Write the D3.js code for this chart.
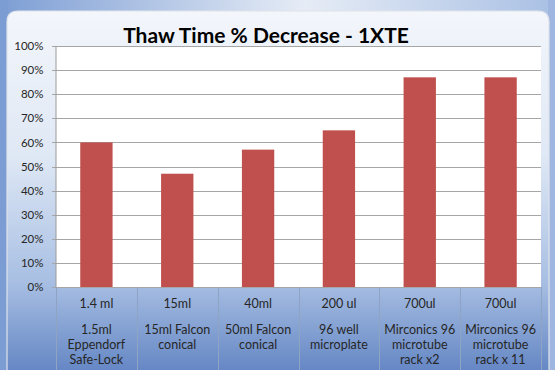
<!DOCTYPE html>
<html>
<head>
<meta charset="utf-8">
<script src="https://cdn.jsdelivr.net/npm/d3@7/dist/d3.min.js"></script>
<style>
  html, body { margin: 0; padding: 0; background: #fff; }
  svg { display: block; }
</style>
</head>
<body>
<svg id="chart" width="555" height="370"></svg>
<script>
// Chart data
const sizes = ["1.4 ml", "15ml", "40ml", "200 ul", "700ul", "700ul"];
const vessels = [
  ["1.5ml", "Eppendorf", "Safe-Lock"],
  ["15ml Falcon", "conical"],
  ["50ml Falcon", "conical"],
  ["96 well", "microplate"],
  ["Mirconics 96", "microtube", "rack x2"],
  ["Mirconics 96", "microtube", "rack x 11"]
];
const decrease = [0.60, 0.47, 0.57, 0.65, 0.87, 0.87];
const yTicks = [0, 0.1, 0.2, 0.3, 0.4, 0.5, 0.6, 0.7, 0.8, 0.9, 1.0];
const title = "Thaw Time % Decrease - 1XTE";

const W = 555, H = 370;
const plot = { left: 56, right: 541, top: 46, bottom: 287 };
const font = "Lato, 'Open Sans', 'DejaVu Sans', sans-serif";

const svg = d3.select("#chart");
const defs = svg.append("defs");

// Backdrop gradients
const outer = defs.append("linearGradient").attr("id", "outer")
  .attr("x1", 0).attr("y1", 0).attr("x2", 1).attr("y2", 0);
outer.append("stop").attr("offset", "0%").attr("stop-color", "#7d9ed4");
outer.append("stop").attr("offset", "55%").attr("stop-color", "#e6ecf6");
outer.append("stop").attr("offset", "100%").attr("stop-color", "#a9c0e4");

const panel = defs.append("linearGradient").attr("id", "panel")
  .attr("x1", 0).attr("y1", 0).attr("x2", 0).attr("y2", 1);
panel.append("stop").attr("offset", "0%").attr("stop-color", "#f3f6fb");
panel.append("stop").attr("offset", "40%").attr("stop-color", "#dfe8f5");
panel.append("stop").attr("offset", "75%").attr("stop-color", "#a8bfe3");
panel.append("stop").attr("offset", "100%").attr("stop-color", "#6486c4");

svg.append("rect").attr("width", W).attr("height", H).attr("fill", "url(#outer)");
svg.append("rect").attr("x", 0).attr("y", 0).attr("width", 8).attr("height", H).attr("fill", "#7c9dd3");
svg.append("rect").attr("x", 548).attr("y", 0).attr("width", 7).attr("height", H).attr("fill", "#9fb7e0");

// Chart panel with rounded top corners
svg.append("path")
  .attr("d", `M7,${H + 2} L7,22 Q7,11 18,11 L538,11 Q549,11 549,22 L549,${H + 2} Z`)
  .attr("fill", "url(#panel)")
  .attr("stroke", "#dfe3ea").attr("stroke-width", 1.2);

// Scales
const x = d3.scaleBand()
  .domain(d3.range(sizes.length))
  .range([plot.left, plot.right])
  .paddingInner(0.6).paddingOuter(0.3);
const y = d3.scaleLinear().domain([0, 1]).range([plot.bottom, plot.top]);

// Plot background
svg.append("rect")
  .attr("x", plot.left).attr("y", plot.top)
  .attr("width", plot.right - plot.left).attr("height", plot.bottom - plot.top)
  .attr("fill", "#ffffff");

// Gridlines
svg.append("g").selectAll("line").data(yTicks).join("line")
  .attr("x1", plot.left - 4).attr("x2", plot.right)
  .attr("y1", d => Math.round(y(d)) + 0.5).attr("y2", d => Math.round(y(d)) + 0.5)
  .attr("stroke", "#a6a6a6").attr("stroke-width", 1);

// Y axis
const yAxis = svg.append("g")
  .attr("transform", `translate(${plot.left - 0.5},0)`)
  .call(d3.axisLeft(y).tickValues(yTicks).tickFormat(d3.format(".0%")).tickSize(0).tickPadding(12));
yAxis.select(".domain").attr("stroke", "#9a9a9a");
yAxis.selectAll("text")
  .attr("font-family", font).attr("font-size", 11.5).attr("fill", "#262626");

// Category table columns
const step = x.step();
const cols = d3.range(sizes.length + 1).map(i => plot.left + i * step);
svg.append("g").selectAll("line").data(cols).join("line")
  .attr("x1", d => Math.round(d) + 0.5).attr("x2", d => Math.round(d) + 0.5)
  .attr("y1", plot.bottom).attr("y2", H)
  .attr("stroke", "#8fa3c3").attr("stroke-width", 1);

// Bars
svg.append("g").selectAll("rect").data(decrease).join("rect")
  .attr("x", (d, i) => x(i)).attr("width", x.bandwidth())
  .attr("y", d => y(d)).attr("height", d => y(0) - y(d))
  .attr("fill", "#c0504d");

// Category labels
const labels = svg.append("g")
  .attr("font-family", font).attr("font-size", 12.5)
  .attr("fill", "#262626").attr("text-anchor", "middle");
labels.selectAll("text.size").data(sizes).join("text")
  .attr("class", "size")
  .attr("x", (d, i) => x(i) + x.bandwidth() / 2).attr("y", 307.5)
  .text(d => d);
vessels.forEach((lines, i) => {
  labels.selectAll(null).data(lines).join("text")
    .attr("x", x(i) + x.bandwidth() / 2)
    .attr("y", (d, j) => 333.5 + j * 15)
    .text(d => d);
});

// Title
svg.append("text")
  .attr("x", 266).attr("y", 43)
  .attr("text-anchor", "middle")
  .attr("font-family", font).attr("font-weight", "bold").attr("font-size", 21)
  .attr("fill", "#000")
  .text(title);
</script>
</body>
</html>
